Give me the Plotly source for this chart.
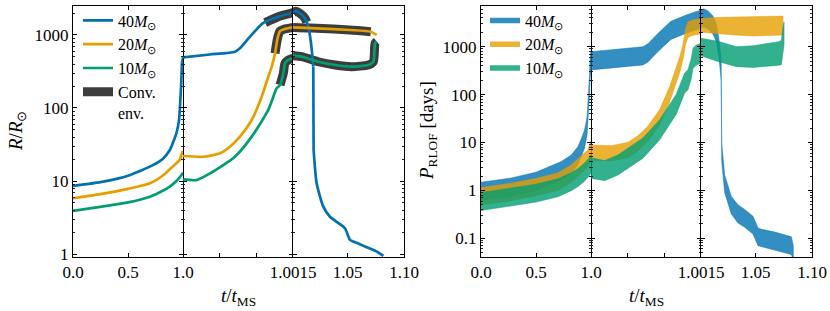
import plotly.graph_objects as go

# ---------------- data ----------------
# segment a: 0 <= t/tMS <= 1 ; segment b: 1 <= t <= 1.0015 ; segment c: 1.0015 <= t <= 1.10
labels = ["40<i>M</i><sub>⊙</sub>", "20<i>M</i><sub>⊙</sub>", "10<i>M</i><sub>⊙</sub>"]
conv_label = "Conv.<br>env."

# ---- 40 Msun ----
t40_a = [0, 0.276, 0.5, 0.73, 0.82, 0.88, 0.912, 0.94, 0.964, 0.976, 0.985, 0.991, 1.0]
R40_a = [8.55, 9.8, 11.8, 16.6, 20.4, 26.6, 34.5, 45, 68.5, 129, 240, 410, 494]
P40_top_a = [1.48, 1.82, 2.40, 4.0, 5.46, 8.12, 12.0, 17.9, 33.6, 86.8, 220, 491, 787]
P40_bot_a = [0.62, 0.76, 1.0, 1.67, 2.28, 3.38, 5.0, 7.46, 14, 36, 92, 205, 328]

t40_b = [1.0, 1.000368, 1.000709, 1.000777, 1.000914, 1.00109, 1.0013, 1.0015]
R40_b = [494, 540, 590, 656, 948, 1450, 1780, 2020]
P40_top_b = [787, 880, 1000, 1150, 1900, 3400, 4600, 5840]
P40_bot_b = [328, 367, 417, 480, 790, 1420, 1920, 2430]

t40_c = [1.0015, 1.004, 1.0077, 1.0121, 1.0151, 1.0175, 1.019, 1.0195]
R40_c = [2020, 2120, 1983, 1694, 1300, 770, 455, 368]
t40_d = [1.0195, 1.0198]
R40_d = [368, 26.6]
t40_e = [1.0198, 1.0225, 1.0284, 1.0343, 1.0403, 1.0476, 1.0521, 1.0551, 1.067, 1.0759, 1.0817]
R40_e = [26.6, 9.3, 4.45, 3.24, 2.76, 2.25, 1.56, 1.48, 1.24, 1.08, 0.94]
tP40_c = [1.0015, 1.004, 1.0077, 1.0121, 1.0151, 1.0175, 1.019, 1.0194, 1.0199, 1.0225,
          1.0284, 1.0343, 1.0403, 1.0476, 1.0521, 1.0551, 1.067, 1.0759, 1.0817, 1.0834]
P40_top_c = [5840, 6200, 5600, 4400, 3000, 1400, 640, 460, 9.5, 2.1,
             0.75, 0.5, 0.4, 0.29, 0.165, 0.155, 0.135, 0.118, 0.108, 0.07]
P40_bot_c = [2430, 2600, 2350, 1850, 1270, 590, 270, 195, 4.0, 0.9,
             0.32, 0.21, 0.17, 0.123, 0.07, 0.066, 0.057, 0.05, 0.046, 0.035]

t40_conv_b = [1.00112, 1.0013, 1.0015]
R40_conv_b = [1475, 1780, 2020]
t40_conv_c = [1.0015, 1.004, 1.0077, 1.0121, 1.0137]
R40_conv_c = [2020, 2120, 1983, 1694, 1500]

# ---- 20 Msun ----
t20_a = [0, 0.276, 0.5, 0.7, 0.82, 0.88, 0.94, 0.97, 0.985, 1.0]
R20_a = [5.8, 6.7, 7.8, 9.3, 12, 14.5, 17.5, 19.4, 22.5, 26]
P20_top_a = [1.14, 1.41, 1.78, 2.31, 3.39, 4.5, 5.97, 6.97, 8.7, 10.8]
P20_bot_a = [0.50, 0.61, 0.77, 1.0, 1.47, 1.96, 2.6, 3.03, 3.78, 4.7]

t20_b = [1.0, 1.000277, 1.000505, 1.00064, 1.000777, 1.000937, 1.001073, 1.001164,
         1.00121, 1.001255, 1.001289, 1.001323, 1.001377, 1.0015]
R20_b = [22, 21.5, 23.9, 29.5, 40.5, 68.5, 143, 270, 368, 560, 900, 1130, 1200, 1270]
P20_top_b = [8.9, 8.6, 10.1, 13.8, 22.2, 48.9, 147, 383, 609, 1143, 2328, 3276, 3586, 3904]
P20_bot_b = [4.24, 4.1, 4.8, 6.6, 10.6, 23.3, 70, 182, 290, 544, 1109, 1560, 1708, 1860]

t20_c = [1.0015, 1.0125, 1.0225, 1.052, 1.0705, 1.0758]
R20_c = [1270, 1250, 1235, 1170, 1110, 1000]
tP20_c = [1.0015, 1.0137, 1.0318, 1.0476, 1.0743]
P20_top_c = [3850, 4050, 4150, 4230, 4370]
P20_bot_c = [2000, 1900, 1750, 1670, 1750]

t20_conv_b = [1.001255, 1.001289, 1.001323, 1.001377, 1.0015]
R20_conv_b = [560, 900, 1130, 1200, 1270]
t20_conv_c = [1.0015, 1.0125, 1.0225, 1.052, 1.0705]
R20_conv_c = [1270, 1250, 1235, 1170, 1110]

# ---- 10 Msun ----
t10_a = [0, 0.276, 0.5, 0.7, 0.82, 0.88, 0.94, 0.98, 1.0]
R10_a = [3.9, 4.5, 5.1, 6.1, 7.4, 8.4, 10.0, 11.7, 13.0]
P10_top_a = [0.9, 1.12, 1.35, 1.76, 2.35, 2.85, 3.7, 4.68, 5.48]
P10_bot_a = [0.38, 0.47, 0.57, 0.74, 0.99, 1.2, 1.55, 1.97, 2.3]

t10_b = [1.0, 1.000187, 1.000368, 1.000709, 1.000937, 1.001163, 1.001277, 1.001323,
         1.001368, 1.001391, 1.001436, 1.0015]
R10_b = [10.5, 10.3, 12.7, 21.5, 40.5, 94, 186, 206, 298, 409, 455, 479]
P10_top_b = [4.8, 4.2, 5.5, 12.5, 30, 102, 284, 331, 575, 926, 1086, 1175]
P10_bot_b = [1.8, 1.6, 2.1, 4.7, 11.4, 39, 108, 126, 218, 352, 413, 450]

t10_c = [1.0015, 1.0092, 1.0239, 1.0388, 1.0536, 1.0683, 1.0728, 1.0743, 1.0758]
R10_c = [520, 505, 430, 388, 368, 388, 430, 769, 813]
tP10_c = [1.0015, 1.0165, 1.0331, 1.0479, 1.0704, 1.0728, 1.0743, 1.0752]
P10_top_c = [1500, 1300, 1000, 1050, 1270, 1350, 2600, 3300]
P10_bot_c = [650, 490, 383, 370, 410, 420, 800, 1100]

t10_conv_b = [1.001323, 1.001368, 1.001391, 1.001436, 1.0015]
R10_conv_b = [206, 298, 409, 455, 479]
t10_conv_c = t10_c
R10_conv_c = R10_c

# axis ticks
x_ticks_a = [0, 0.5, 1.0]
x_text_a = ["0.0", "0.5", "1.0"]
x_ticks_b = [1.0, 1.0005, 1.001, 1.0015]
x_text_b = ["", "", "", "1.0015"]
x_ticks_c = [1.0015, 1.05, 1.10]
x_text_c = ["", "1.05", "1.10"]
R_ticks = [1, 10, 100, 1000]
R_text = ["1", "10", "100", "1000"]
P_ticks = [0.1, 1, 10, 100, 1000]
P_text = ["0.1", "1", "10", "100", "1000"]

# ---------------- style ----------------
W, H = 830, 311
COL = ["#0072B2", "#E69F00", "#009E73"]
FILL = ["rgba(0,114,178,0.8)", "rgba(230,159,0,0.8)", "rgba(0,158,115,0.8)"]
CONV = "rgba(45,45,45,0.92)"
FONT = "Liberation Serif"

def px_x(a, b):
    return [a / W, b / W]

x_domains = [px_x(73, 183), px_x(183, 293), px_x(293, 404),
             px_x(481, 591), px_x(591, 701), px_x(701, 812)]
y_domain = [(H - 257) / H, (H - 6) / H]
x_ranges = [[-1e-9, 1.0 + 1e-9], [1.0 - 1e-9, 1.0015 + 1e-9], [1.0015 - 1e-9, 1.10 + 1e-9]] * 2
x_tv = [x_ticks_a, x_ticks_b, x_ticks_c] * 2
x_tt = [x_text_a, x_text_b, x_text_c] * 2
yR_range = [-0.041, 3.397]
yP_range = [-1.39, 3.85]

minor_R = [m * 10 ** k for k in range(-1, 4) for m in range(2, 10)]
minor_P = [m * 10 ** k for k in range(-2, 4) for m in range(2, 10)]

fig = go.Figure()

def ax(i):
    return ("x" if i == 1 else f"x{i}"), ("y" if i == 1 else f"y{i}")

# ---- left panel: conv env (underneath) ----
conv_sets = [
    (2, t40_conv_b, R40_conv_b), (3, t40_conv_c, R40_conv_c),
    (2, t20_conv_b, R20_conv_b), (3, t20_conv_c, R20_conv_c),
    (2, t10_conv_b, R10_conv_b), (3, t10_conv_c, R10_conv_c),
]
for k, (i, tt, rr) in enumerate(conv_sets):
    xa, ya = ax(i)
    fig.add_trace(go.Scatter(x=tt, y=rr, xaxis=xa, yaxis=ya, mode="lines",
                             line=dict(color=CONV, width=9, shape="spline", smoothing=0.6),
                             name=conv_label, legendgroup="conv", legendrank=4,
                             showlegend=(k == 0), legend="legend", hoverinfo="skip"))

# ---- left panel: radius lines ----
R_sets = [
    [(1, t40_a, R40_a), (2, t40_b, R40_b), (3, t40_c, R40_c), (3, t40_d, R40_d), (3, t40_e, R40_e)],
    [(1, t20_a, R20_a), (2, t20_b, R20_b), (3, t20_c, R20_c)],
    [(1, t10_a, R10_a), (2, t10_b, R10_b), (3, t10_c, R10_c)],
]
for s, segs in enumerate(R_sets):
    for j, (i, tt, rr) in enumerate(segs):
        xa, ya = ax(i)
        fig.add_trace(go.Scatter(x=tt, y=rr, xaxis=xa, yaxis=ya, mode="lines",
                                 line=dict(color=COL[s], width=2.7, shape="spline", smoothing=0.6),
                                 name=labels[s], legendgroup=f"R{s}", legendrank=s + 1,
                                 showlegend=(j == 0), legend="legend", hoverinfo="skip"))

# ---- right panel: P_RLOF bands ----
P_sets = [
    [(t40_a, P40_top_a, P40_bot_a), (t40_b, P40_top_b, P40_bot_b), (tP40_c, P40_top_c, P40_bot_c)],
    [(t20_a, P20_top_a, P20_bot_a), (t20_b, P20_top_b, P20_bot_b), (tP20_c, P20_top_c, P20_bot_c)],
    [(t10_a, P10_top_a, P10_bot_a), (t10_b, P10_top_b, P10_bot_b), (tP10_c, P10_top_c, P10_bot_c)],
]
for s, segs in enumerate(P_sets):
    for j, (tt, top, bot) in enumerate(segs):
        xa, ya = ax(j + 4)
        fig.add_trace(go.Scatter(x=list(tt) + list(tt)[::-1], y=list(top) + list(bot)[::-1],
                                 xaxis=xa, yaxis=ya, mode="lines", fill="toself",
                                 fillcolor=FILL[s], line=dict(width=0.6, color=FILL[s]),
                                 showlegend=False, hoverinfo="skip"))
    fig.add_trace(go.Scatter(x=[None], y=[None], xaxis="x4", yaxis="y4", mode="lines",
                             line=dict(color=FILL[s], width=5.5), name=labels[s],
                             legend="legend2", legendrank=s + 1, showlegend=True))

# ---------------- axes ----------------
LEG_FONT = dict(family=FONT, size=16, color="black")
layout = dict(
    template="none",
    width=W, height=H, autosize=False, margin=dict(l=0, r=0, t=0, b=0, pad=0),
    paper_bgcolor="white", plot_bgcolor="white",
    font=dict(family=FONT, size=17, color="black"),
    showlegend=True,
    legend=dict(x=78 / W, y=1 - 3.5 / H, xanchor="left", yanchor="top",
                bgcolor="rgba(0,0,0,0)", font=LEG_FONT,
                valign="top", tracegroupgap=0, itemwidth=30),
    legend2=dict(x=485 / W, y=1 - 3.5 / H, xanchor="left", yanchor="top",
                 bgcolor="rgba(0,0,0,0)", font=LEG_FONT,
                 tracegroupgap=0, itemwidth=30),
)
for i in range(1, 7):
    xa_key = "xaxis" if i == 1 else f"xaxis{i}"
    ya_key = "yaxis" if i == 1 else f"yaxis{i}"
    xa, ya = ax(i)
    left = i <= 3
    middle = i in (2, 5)   # its side lines are drawn by the neighbours
    layout[xa_key] = dict(domain=x_domains[i - 1], anchor=ya, range=x_ranges[i - 1],
                          automargin=False,
                          tickmode="array", tickvals=x_tv[i - 1], ticktext=x_tt[i - 1],
                          ticks="inside", ticklen=4, tickwidth=1, tickcolor="black",
                          showline=True, linecolor="black", linewidth=1, mirror="ticks",
                          showgrid=False, zeroline=False,
                          tickfont=dict(family=FONT, size=17, color="black"))
    layout[ya_key] = dict(domain=y_domain, anchor=xa, type="log",
                          automargin=False,
                          range=yR_range if left else yP_range,
                          tickmode="array", tickvals=R_ticks if left else P_ticks,
                          ticktext=R_text if left else P_text,
                          ticks="inside", ticklen=4, tickwidth=0.9, tickcolor="black",
                          minor=dict(tickmode="array", tickvals=minor_R if left else minor_P,
                                     ticks="inside", ticklen=2, tickwidth=0.6,
                                     tickcolor="#222222", showgrid=False),
                          showline=not middle, linecolor="black", linewidth=1, mirror="ticks",
                          showgrid=False, zeroline=False,
                          showticklabels=(i in (1, 4)),
                          tickfont=dict(family=FONT, size=17, color="black"))
fig.update_layout(**layout)

# axis titles
ann = [
    dict(text="<i>R</i>/<i>R</i><sub>⊙</sub>", x=17 / W, y=1 - 131 / H, textangle=-90),
    dict(text="<i>P</i><sub>RLOF</sub> [days]", x=428 / W, y=1 - 131 / H, textangle=-90),
    dict(text="<i>t</i>/<i>t</i><sub>MS</sub>", x=238 / W, y=1 - 297 / H),
    dict(text="<i>t</i>/<i>t</i><sub>MS</sub>", x=646 / W, y=1 - 297 / H),
]
for a in ann:
    fig.add_annotation(xref="paper", yref="paper", showarrow=False,
                       xanchor="center", yanchor="middle",
                       font=dict(family=FONT, size=19, color="black"), **a)

fig.write_html("out.html", config={"displayModeBar": False, "responsive": False},
               post_script="document.body.style.margin='0';document.body.style.overflow='hidden';")
